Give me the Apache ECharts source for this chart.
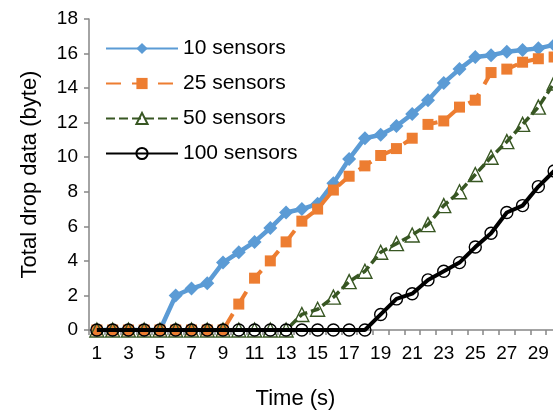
<!DOCTYPE html>
<html>
<head>
<meta charset="utf-8">
<script src="https://cdn.jsdelivr.net/npm/echarts@6/dist/echarts.min.js"></script>
<style>
html,body{margin:0;padding:0;background:#fff;overflow:hidden;width:553px;height:415px;}
#chart{width:562px;height:415px;}
</style>
</head>
<body>
<div id="chart"></div>
<script>
const categories = ['1','2','3','4','5','6','7','8','9','10','11','12','13','14','15','16','17','18','19','20','21','22','23','24','25','26','27','28','29','30'];
const seriesNames = ['10 sensors','25 sensors','50 sensors','100 sensors'];
const s10  = [0,0,0,0,0,2.0,2.4,2.7,3.9,4.5,5.1,5.9,6.8,7.0,7.3,8.5,9.9,11.1,11.3,11.8,12.5,13.3,14.3,15.1,15.8,15.9,16.1,16.2,16.3,16.5];
const s25  = [0,0,0,0,0,0,0,0,0,1.5,3.0,4.0,5.1,6.3,7.0,8.1,8.9,9.5,10.1,10.5,11.1,11.9,12.1,12.9,13.3,14.9,15.1,15.5,15.7,15.8];
const s50  = [0,0,0,0,0,0,0,0,0,0,0,0,0,0.9,1.2,1.9,2.8,3.4,4.5,5.0,5.5,6.1,7.2,8.0,9.0,10.0,10.9,11.9,12.9,14.3];
const s100 = [0,0,0,0,0,0,0,0,0,0,0,0,0,0,0,0,0,0,0.9,1.8,2.1,2.9,3.4,3.9,4.8,5.6,6.8,7.2,8.3,9.2];
const yTicks = [0,2,4,6,8,10,12,14,16,18];

const FONT = '"Liberation Sans", Arial, sans-serif';
const AXIS = '#868686';

const chart = echarts.init(document.getElementById('chart'), null, {renderer:'canvas', width: 562, height: 415});
chart.setOption({
  animation: false,
  backgroundColor: '#fff',
  grid: {left: 89, top: 19, bottom: 84, right: 0, containLabel: false},
  legend: {
    orient: 'vertical', left: 100, top: 33,
    itemWidth: 72, itemHeight: 14, itemGap: 14,
    textStyle: {fontFamily: FONT, fontSize: 21, color: '#000', lineHeight: 20},
    data: seriesNames
  },
  xAxis: {
    type: 'category', data: categories, boundaryGap: true,
    name: 'Time (s)', nameLocation: 'middle', nameGap: 58,
    nameTextStyle: {fontFamily: FONT, fontSize: 22, color: '#000', padding: [0, 60, 0, 0]},
    axisLine: {lineStyle: {color: AXIS, width: 1.5}},
    axisTick: {show: true, alignWithLabel: false, interval: 0, length: 5, lineStyle: {color: AXIS, width: 1.5}},
    axisLabel: {interval: 1, margin: 14, fontFamily: FONT, fontSize: 19, color: '#000'}
  },
  yAxis: {
    type: 'value', min: yTicks[0], max: yTicks[yTicks.length-1], interval: 2,
    name: 'Total drop data (byte)', nameLocation: 'middle', nameGap: 48,
    nameTextStyle: {fontFamily: FONT, fontSize: 22, color: '#000'},
    axisLine: {show: true, lineStyle: {color: AXIS, width: 1.5}},
    axisTick: {show: true, length: 5, lineStyle: {color: AXIS, width: 1.5}},
    axisLabel: {margin: 11, fontFamily: FONT, fontSize: 19, color: '#000'},
    splitLine: {show: false}
  },
  series: [
    {
      name: seriesNames[0], type: 'line', data: s10,
      symbol: 'diamond', symbolSize: 14, showAllSymbol: true,
      lineStyle: {color: '#5B9BD5', width: 4.5},
      itemStyle: {color: '#5B9BD5'}, z: 2
    },
    {
      name: seriesNames[1], type: 'line', data: s25,
      symbol: 'rect', symbolSize: 11, showAllSymbol: true,
      lineStyle: {color: '#ED7D31', width: 4, type: [15, 11]},
      itemStyle: {color: '#ED7D31'}, z: 3
    },
    {
      name: seriesNames[2], type: 'line', data: s50,
      symbol: 'triangle', symbolSize: 14, showAllSymbol: true,
      lineStyle: {color: '#385723', width: 3.5, type: [9, 4]},
      itemStyle: {color: 'rgba(255,255,255,0)', borderColor: '#385723', borderWidth: 1.4}, z: 4
    },
    {
      name: seriesNames[3], type: 'line', data: s100,
      symbol: 'circle', symbolSize: 12, showAllSymbol: true,
      lineStyle: {color: '#000', width: 4},
      itemStyle: {color: 'rgba(255,255,255,0)', borderColor: '#000', borderWidth: 1.4}, z: 5
    }
  ]
});
</script>
</body>
</html>
